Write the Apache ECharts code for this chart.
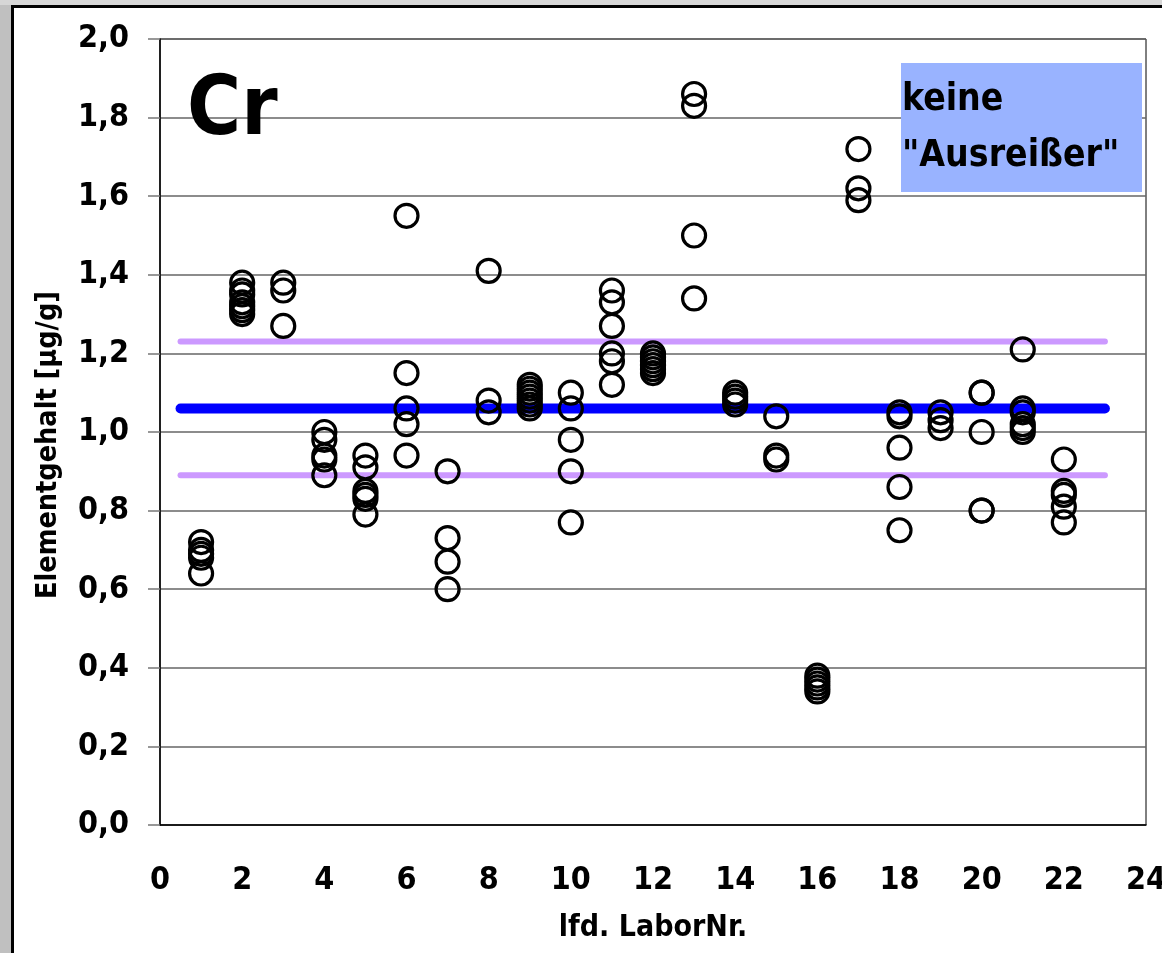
<!DOCTYPE html>
<html>
<head>
<meta charset="utf-8">
<script src="https://cdn.jsdelivr.net/npm/echarts@6/dist/echarts.min.js"></script>
<style>
html,body{margin:0;padding:0;background:#fff;}
#chart{width:1162px;height:953px;}
</style>
</head>
<body>
<div id="chart"></div>
<script>
// ---- data ----
const lab1  = [0.72, 0.70, 0.69, 0.68, 0.64];
const lab2  = [1.38, 1.36, 1.35, 1.33, 1.32, 1.31, 1.30];
const lab3  = [1.38, 1.36, 1.27];
const lab4  = [1.00, 0.98, 0.94, 0.93, 0.89];
const lab5  = [0.94, 0.91, 0.85, 0.84, 0.83, 0.79];
const lab6  = [1.55, 1.15, 1.06, 1.02, 0.94];
const lab7  = [0.90, 0.73, 0.67, 0.60];
const lab8  = [1.41, 1.08, 1.05];
const lab9  = [1.12, 1.11, 1.10, 1.09, 1.08, 1.07, 1.06];
const lab10 = [1.10, 1.06, 0.98, 0.90, 0.77];
const lab11 = [1.36, 1.33, 1.27, 1.20, 1.18, 1.12];
const lab12 = [1.20, 1.19, 1.18, 1.17, 1.16, 1.15];
const lab13 = [1.86, 1.83, 1.50, 1.34];
const lab14 = [1.10, 1.09, 1.08, 1.07];
const lab15 = [1.04, 0.94, 0.93];
const lab16 = [0.38, 0.37, 0.36, 0.35, 0.34];
const lab17 = [1.72, 1.62, 1.59];
const lab18 = [1.05, 1.04, 0.96, 0.86, 0.75];
const lab19 = [1.05, 1.03, 1.01];
const lab20 = [1.10, 1.10, 1.00, 0.80, 0.80];
const lab21 = [1.21, 1.06, 1.05, 1.02, 1.01, 1.00];
const lab22 = [0.93, 0.85, 0.84, 0.81, 0.77];
const labValues = [lab1, lab2, lab3, lab4, lab5, lab6, lab7, lab8, lab9, lab10, lab11,
                   lab12, lab13, lab14, lab15, lab16, lab17, lab18, lab19, lab20, lab21, lab22];
const labNumbers = [1,2,3,4,5,6,7,8,9,10,11,12,13,14,15,16,17,18,19,20,21,22];

const meanValue = 1.06;
const upperLimit = 1.23;
const lowerLimit = 0.89;
const lineRange = [0.5, 23];

const xTicks = [0, 24, 2];      // min, max, interval
const yTicks = [0, 2.0, 0.2];   // min, max, interval

const elementLabel = 'Cr';
const noteLines = ['keine', '"Ausreißer"'];
const xTitle = 'lfd. LaborNr.';
const yTitle = 'Elementgehalt [µg/g]';

// ---- build ----
const points = [];
labValues.forEach((vals, i) => vals.forEach(v => points.push([labNumbers[i], v])));

const FONT = "'Liberation Sans Narrow', 'Arial Narrow', 'DejaVu Sans Condensed', sans-serif";
const chart = echarts.init(document.getElementById('chart'), null, {renderer: 'canvas'});

function hLine(y, color, width) {
  return {
    type: 'line',
    data: [[lineRange[0], y], [lineRange[1], y]],
    symbol: 'none',
    lineStyle: {color: color, width: width, cap: 'round'},
    silent: true,
    z: 2
  };
}

chart.setOption({
  animation: false,
  backgroundColor: '#ffffff',
  textStyle: {fontFamily: FONT},
  grid: {left: 160, top: 39, right: 16, bottom: 128, show: true, borderColor: '#000', borderWidth: 1,
         containLabel: false, outerBoundsMode: 'none'},
  xAxis: {
    type: 'value',
    min: xTicks[0], max: xTicks[1], interval: xTicks[2],
    name: xTitle,
    nameLocation: 'middle',
    nameGap: 88,
    nameTextStyle: {fontFamily: FONT, fontWeight: 'bold', fontSize: 30, color: '#000'},
    axisLine: {show: true, onZero: false, lineStyle: {color: '#000', width: 1.5}},
    axisTick: {show: false},
    splitLine: {show: false},
    axisLabel: {fontFamily: FONT, fontWeight: 'bold', fontSize: 32, color: '#000', margin: 40}
  },
  yAxis: {
    type: 'value',
    min: yTicks[0], max: yTicks[1], interval: yTicks[2],
    axisLine: {show: true, lineStyle: {color: '#000', width: 1.5}},
    axisTick: {show: true, inside: false, length: 12, lineStyle: {color: '#777', width: 1.5}},
    splitLine: {show: true, lineStyle: {color: '#666', width: 1.5}},
    axisLabel: {
      fontFamily: FONT, fontWeight: 'bold', fontSize: 32, color: '#000', margin: 31,
      formatter: v => v.toFixed(1).replace('.', ',')
    }
  },
  series: [
    hLine(upperLimit, '#cc99ff', 6),
    hLine(lowerLimit, '#cc99ff', 6),
    hLine(meanValue, '#0000ff', 10),
    {
      type: 'scatter',
      data: points,
      symbol: 'circle',
      symbolSize: 23,
      itemStyle: {color: 'rgba(0,0,0,0)', borderColor: '#000', borderWidth: 3.2, opacity: 1},
      z: 5
    }
  ],
  graphic: [
    {type: 'rect', shape: {x: 0, y: 0, width: 11, height: 953}, style: {fill: '#c0c0c0'}, silent: true},
    {type: 'rect', shape: {x: 0, y: 0, width: 1162, height: 5}, style: {fill: '#d6d6d6'}, silent: true},
    {type: 'rect', shape: {x: 11, y: 5, width: 3, height: 948}, style: {fill: '#000'}, silent: true},
    {type: 'rect', shape: {x: 11, y: 5, width: 1151, height: 3}, style: {fill: '#000'}, silent: true},
    {
      type: 'text', x: 49, y: 445, rotation: Math.PI / 2, z: 10,
      style: {text: yTitle, fontFamily: FONT, fontWeight: 'bold', fontSize: 28.5, fill: '#000',
              align: 'center', verticalAlign: 'middle'}
    },
    {
      type: 'text', left: 187, top: 72, z: 10,
      style: {text: elementLabel, fontFamily: FONT, fontWeight: 'bold', fontSize: 82, fill: '#000'}
    },
    {
      type: 'rect', shape: {x: 901, y: 63, width: 241, height: 129}, z: 10,
      style: {fill: '#99b3ff'}
    },
    {
      type: 'text', left: 902, top: 72, z: 11,
      style: {text: noteLines.join('\n'), fontFamily: FONT, fontWeight: 'bold', fontSize: 37, lineHeight: 56, fill: '#000'}
    }
  ]
});
</script>
</body>
</html>
